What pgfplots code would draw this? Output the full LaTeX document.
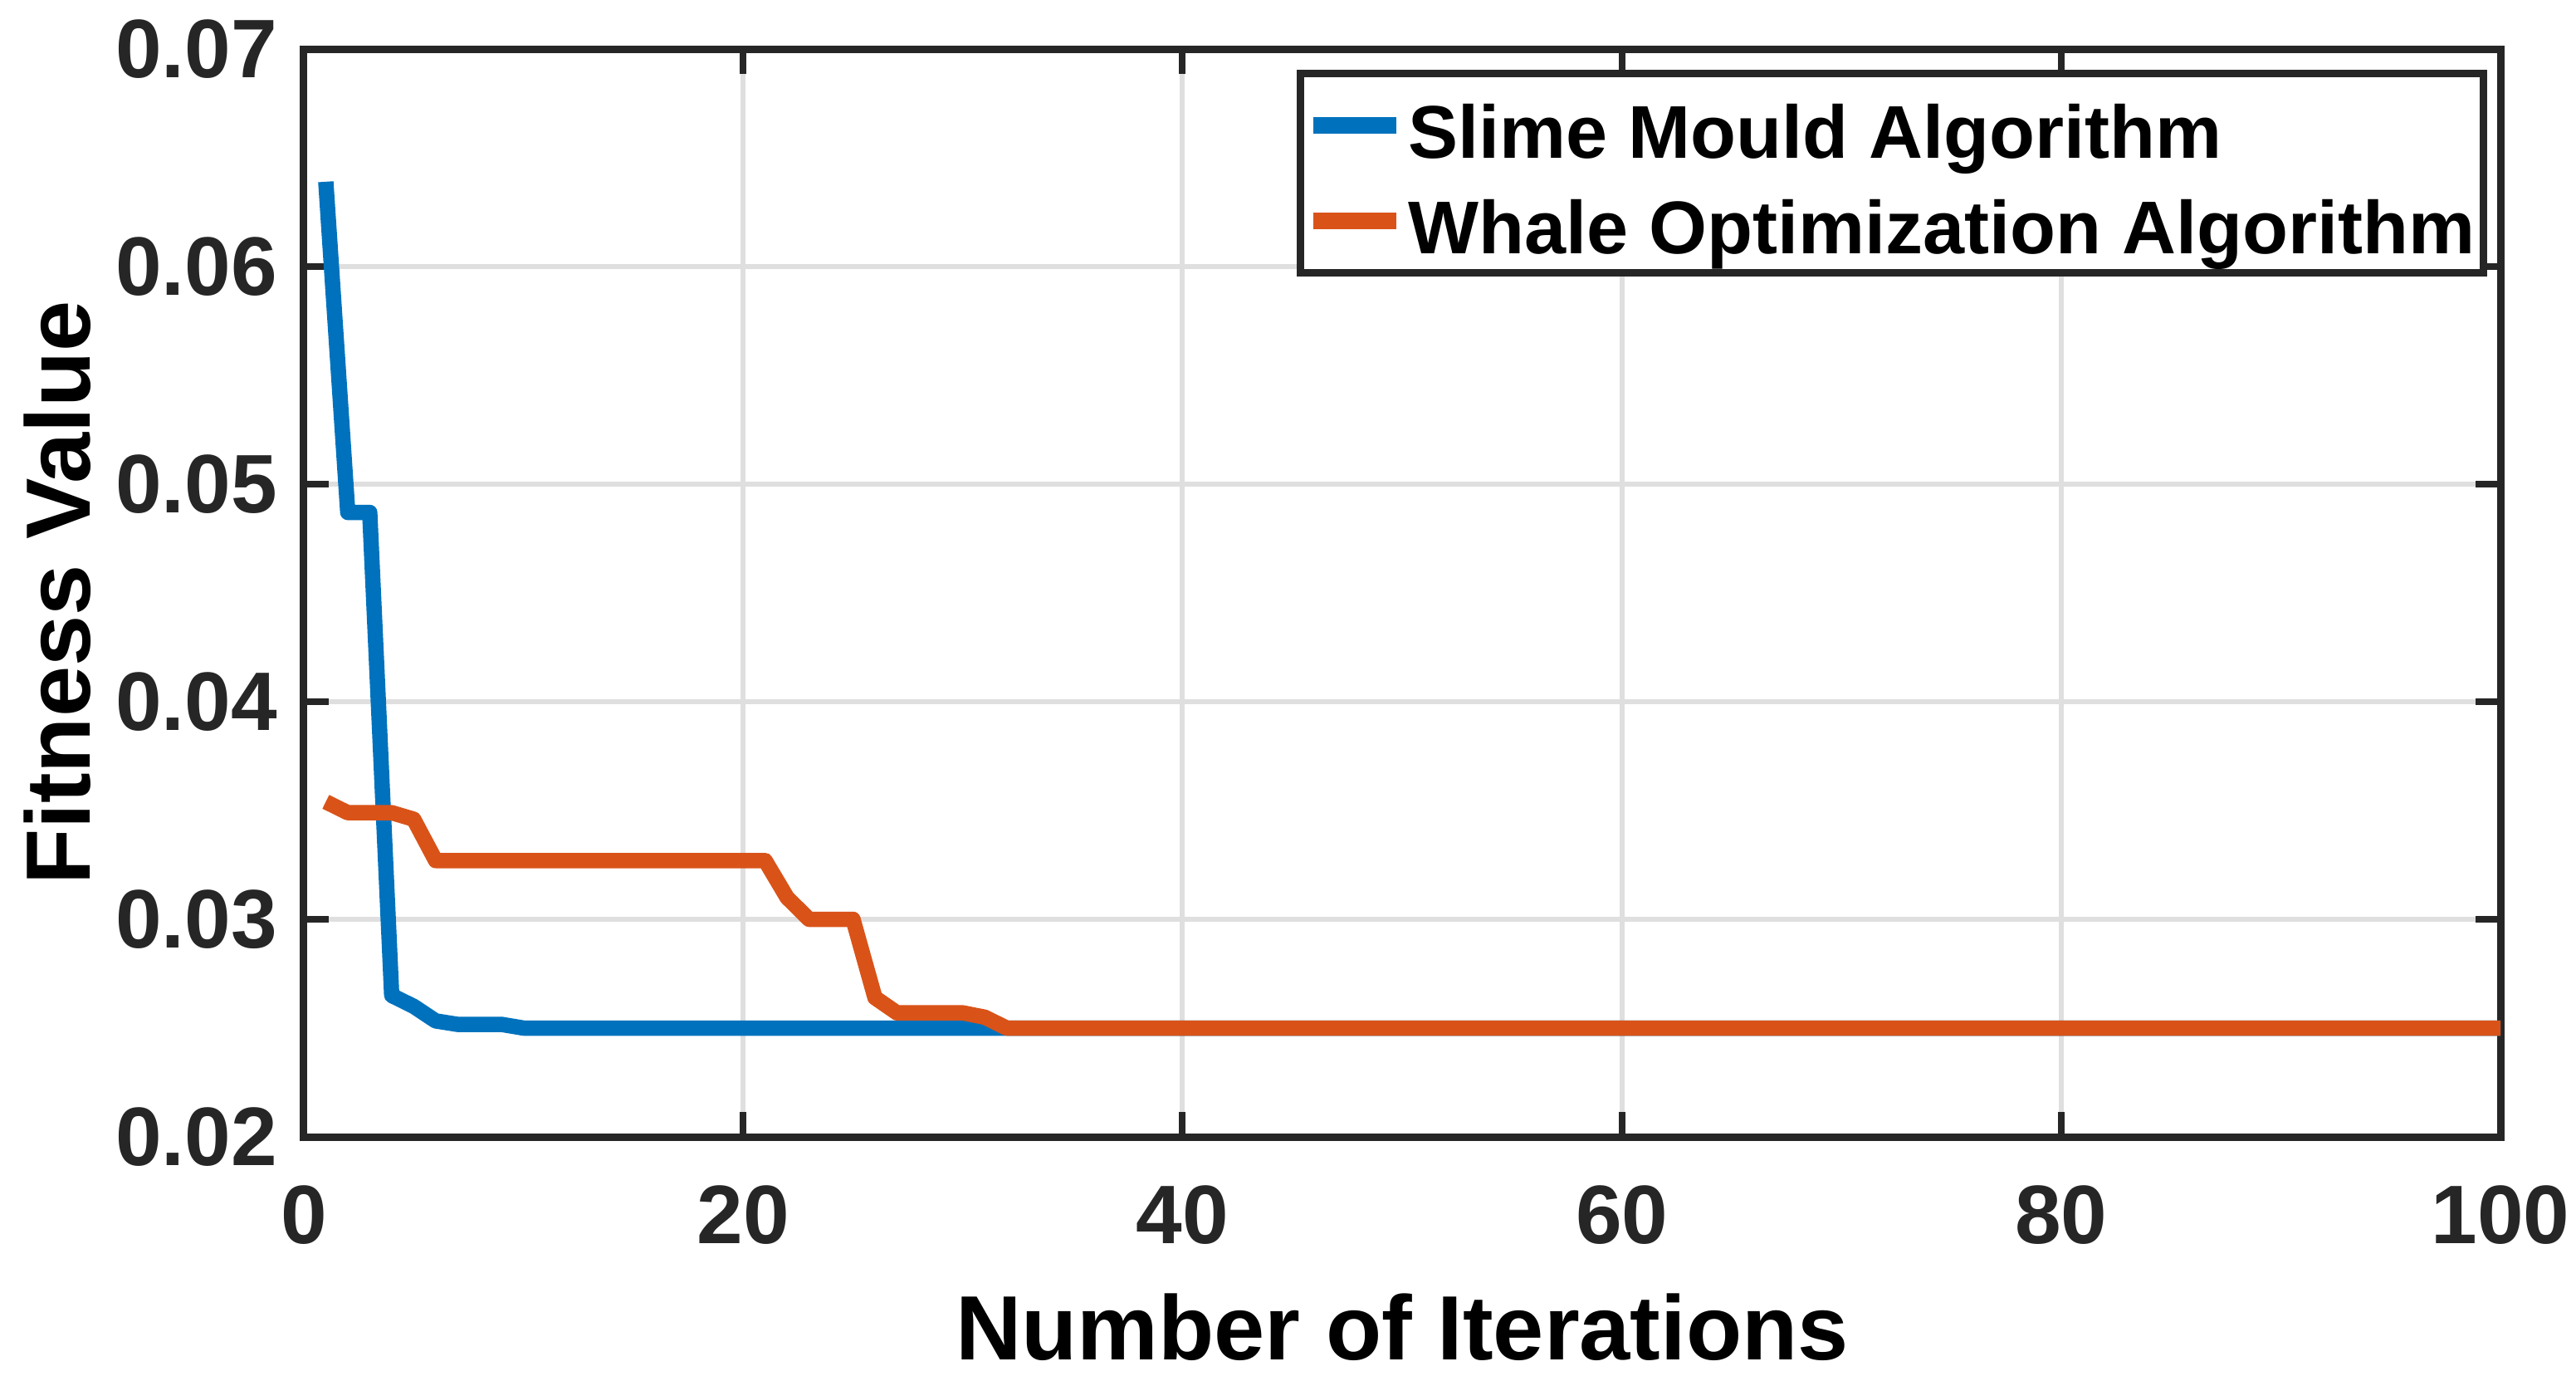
\documentclass[border=0pt]{standalone}
\usepackage{pgfplots}
\pgfplotsset{compat=1.18}
\usepackage{fontspec}
\setmainfont{Liberation Sans}
\definecolor{mblue}{RGB}{0,114,189}
\definecolor{morange}{RGB}{217,83,25}
\definecolor{axgray}{RGB}{38,38,38}
\definecolor{gridgray}{RGB}{223,223,223}

\pgfplotstableread{
x y
1 0.0639
2 0.0487
3 0.0487
4 0.0265
5 0.0260
6 0.02533
7 0.02517
8 0.02517
9 0.02517
10 0.0250
20 0.0250
31 0.0250
100 0.0250
}\sma

\pgfplotstableread{
x y
1 0.0354
2 0.0349
3 0.0349
4 0.0349
5 0.0346
6 0.0327
21 0.0327
22 0.0310
23 0.0300
24 0.0300
25 0.0300
26 0.0264
27 0.0257
28 0.0257
29 0.0257
30 0.0257
31 0.0255
32 0.0250
100 0.0250
}\woa

\begin{document}
\begin{tikzpicture}
\useasboundingbox (-73.2pt,-58.6pt) rectangle (547.4pt,273.8pt);
\begin{axis}[
  anchor=south west, at={(0pt,0pt)},
  width=529.2pt, height=262pt, scale only axis,
  xmin=0, xmax=100, ymin=0.02, ymax=0.07,
  xtick={0,20,...,100},
  ytick={0.02,0.03,0.04,0.05,0.06,0.07},
  scaled y ticks=false,
  /pgf/number format/assume math mode=true,
  tick label style={font=\fontsize{20}{22}\selectfont\bfseries, text=axgray},
  yticklabel style={/pgf/number format/.cd, fixed, fixed zerofill, precision=2, /tikz/.cd,
    anchor=east, inner sep=0pt, xshift=-6.2pt},
  xticklabel style={anchor=north, inner sep=0pt, yshift=-11.5pt},
  xlabel={Number of Iterations},
  ylabel={Fitness Value},
  xlabel style={at={(axis description cs:0.5,0)}, anchor=base, yshift=-53.6pt,
    font=\fontsize{22}{26}\selectfont\bfseries, text=black},
  ylabel style={at={(axis description cs:-0.0973,0.5)}, rotate=0, anchor=base,
    font=\fontsize{22}{26}\selectfont\bfseries, text=black},
  axis line style={draw=axgray, line width=1.8pt},
  tick style={draw=axgray, line width=1.6pt},
  major tick length=6pt,
  tick align=inside,
  xtick pos=both, ytick pos=both,
  grid=major,
  major grid style={draw=gridgray, line width=1.2pt},
  legend style={at={(axis description cs:0.994,0.981)}, anchor=north east,
    draw=axgray, line width=1.8pt, fill=white,
    font=\fontsize{18}{20}\selectfont\bfseries,
    inner xsep=1pt, inner ysep=2pt, row sep=2pt,
    nodes={inner sep=1pt, text height=17.5pt, text depth=1.5pt}},
  legend cell align=left,
  legend image code/.code={\draw[#1, line width=4pt, line cap=butt] (0pt,0pt) -- (20pt,0pt);},
]
\addplot[mblue, line width=3.7pt, line join=round] table[x=x,y=y] {\sma};
\addlegendentry{Slime Mould Algorithm}
\addplot[morange, line width=3.7pt, line join=round] table[x=x,y=y] {\woa};
\addlegendentry{Whale Optimization Algorithm}
\end{axis}
\end{tikzpicture}
\end{document}
